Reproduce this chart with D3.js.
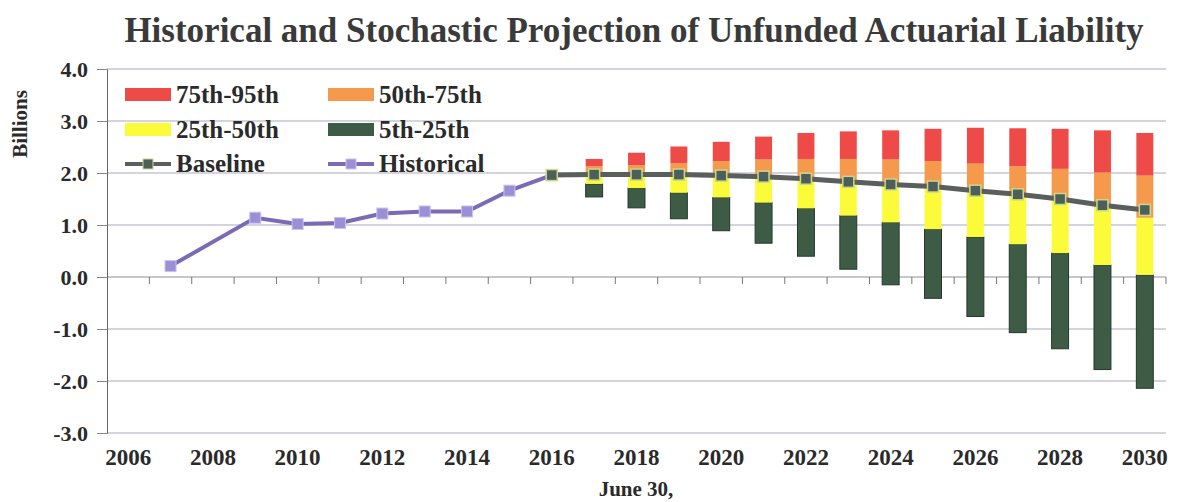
<!DOCTYPE html>
<html>
<head>
<meta charset="utf-8">
<script src="https://cdn.jsdelivr.net/npm/d3@7"></script>
<style>
  html, body { margin: 0; padding: 0; background: #fff; }
  svg { display: block; }
  text { font-family: "Liberation Serif", "Times New Roman", serif; font-weight: bold; fill: #2a2a2a; }
</style>
</head>
<body>
<svg id="chart" width="1179" height="502"></svg>
<script>
// Fiscal years (June 30) on the category axis
const years = d3.range(2006, 2031);
const yearLabels = d3.range(2006, 2031, 2);

// Actual unfunded liability (billions)
const histYears  = [2007, 2009, 2010, 2011, 2012, 2013, 2014, 2015, 2016];
const histValues = [0.21, 1.14, 1.02, 1.04, 1.22, 1.26, 1.26, 1.66, 1.96];

// Deterministic baseline projection (billions)
const baseYears  = d3.range(2016, 2031);
const baseValues = [1.96, 1.97, 1.97, 1.97, 1.95, 1.93, 1.89, 1.83, 1.78, 1.74, 1.66, 1.59, 1.50, 1.38, 1.29];

// Stochastic projection percentiles (billions)
const projYears = d3.range(2017, 2031);
const p5  = [1.54, 1.33, 1.12, 0.89, 0.65, 0.40, 0.15, -0.15, -0.41, -0.76, -1.07, -1.38, -1.78, -2.14];
const p25 = [1.79, 1.71, 1.62, 1.53, 1.43, 1.32, 1.18, 1.05, 0.92, 0.77, 0.63, 0.46, 0.23, 0.04];
const p50 = [1.97, 1.97, 1.97, 1.95, 1.93, 1.89, 1.83, 1.78, 1.74, 1.66, 1.59, 1.50, 1.36, 1.14];
const p75 = [2.13, 2.15, 2.19, 2.23, 2.26, 2.27, 2.27, 2.26, 2.23, 2.18, 2.13, 2.08, 2.01, 1.95];
const p95 = [2.27, 2.39, 2.51, 2.60, 2.70, 2.77, 2.80, 2.82, 2.85, 2.87, 2.86, 2.85, 2.82, 2.77];

const yTicks = [-3, -2, -1, 0, 1, 2, 3, 4];

const bands = [
  { name: "5th-25th",  lo: p5,  hi: p25, color: "#3e5c45", stroke: "#24382a" },
  { name: "25th-50th", lo: p25, hi: p50, color: "#fbfb3a", stroke: "none" },
  { name: "50th-75th", lo: p50, hi: p75, color: "#f59a4c", stroke: "none" },
  { name: "75th-95th", lo: p75, hi: p95, color: "#ee4a48", stroke: "none" }
];

const svg = d3.select("#chart");
const plot = { left: 107, right: 1166, top: 69, bottom: 433 };

const x = d3.scaleBand().domain(years).range([plot.left, plot.right]).padding(0);
const cx = yr => x(yr) + x.bandwidth() / 2;
const y = d3.scaleLinear().domain([-3, 4]).range([plot.bottom, plot.top]);
const barW = x.bandwidth() * 0.4;

// Title
svg.append("text")
  .attr("x", 634).attr("y", 42)
  .attr("text-anchor", "middle")
  .style("font-size", "35px")
  .style("fill", "#3a3a3a")
  .text("Historical and Stochastic Projection of Unfunded Actuarial Liability");

// Horizontal gridlines
svg.append("g").selectAll("line").data(yTicks).join("line")
  .attr("x1", plot.left).attr("x2", plot.right)
  .attr("y1", d => y(d)).attr("y2", d => y(d))
  .attr("stroke", d => d === 0 ? "#8d8d9a" : "#a9a9c2")
  .attr("stroke-width", 1);

// Y axis
const yAxis = svg.append("g")
  .attr("transform", `translate(${plot.left},0)`)
  .call(d3.axisLeft(y).tickValues(yTicks).tickFormat(d => d.toFixed(1)).tickSize(10).tickPadding(9));
yAxis.select(".domain").attr("stroke", "#666");
yAxis.selectAll(".tick line").attr("stroke", "#888");
yAxis.selectAll("text").style("font-size", "22px").style("font-family", "Liberation Serif, serif").style("font-weight", "bold").attr("fill", "#2a2a2a");

// Category tick marks on the zero line
svg.append("g").selectAll("line").data(years.slice(1).concat([2031])).join("line")
  .attr("x1", d => d === 2031 ? plot.right : x(d))
  .attr("x2", d => d === 2031 ? plot.right : x(d))
  .attr("y1", y(0)).attr("y2", y(0) + 7)
  .attr("stroke", "#777");

// X labels along the bottom
const xAxis = svg.append("g")
  .attr("transform", `translate(0,${plot.bottom})`)
  .call(d3.axisBottom(x).tickValues(yearLabels).tickSize(0).tickPadding(16));
xAxis.select(".domain").remove();
xAxis.selectAll("text").style("font-size", "23px").style("font-family", "Liberation Serif, serif").style("font-weight", "bold").attr("fill", "#2a2a2a");

// Axis titles
svg.append("text")
  .attr("transform", "translate(27,124) rotate(-90)")
  .attr("text-anchor", "middle")
  .style("font-size", "21px")
  .text("Billions");
svg.append("text")
  .attr("x", 636).attr("y", 496)
  .attr("text-anchor", "middle")
  .style("font-size", "21px")
  .text("June 30,");

// Stacked percentile bars
const barG = svg.append("g");
bands.forEach(b => {
  barG.append("g").selectAll("rect").data(projYears).join("rect")
    .attr("x", (d, i) => cx(d) - barW / 2)
    .attr("width", barW)
    .attr("y", (d, i) => y(b.hi[i]))
    .attr("height", (d, i) => y(b.lo[i]) - y(b.hi[i]))
    .attr("fill", b.color)
    .attr("stroke", b.stroke)
    .attr("stroke-width", 1);
});

// Historical line
const line = d3.line().x(d => cx(d[0])).y(d => y(d[1]));
const histPts = d3.zip(histYears, histValues);
svg.append("path").datum(histPts)
  .attr("d", line).attr("fill", "none")
  .attr("stroke", "#7a6bb4").attr("stroke-width", 4);
svg.append("g").selectAll("rect").data(histPts).join("rect")
  .attr("x", d => cx(d[0]) - 5.5).attr("y", d => y(d[1]) - 5.5)
  .attr("width", 11).attr("height", 11)
  .attr("fill", "#9b8fd6").attr("stroke", "#c9c2ee").attr("stroke-width", 1);

// Baseline line
const basePts = d3.zip(baseYears, baseValues);
svg.append("path").datum(basePts)
  .attr("d", line).attr("fill", "none")
  .attr("stroke", "#5a5f5c").attr("stroke-width", 5);
svg.append("g").selectAll("rect").data(basePts).join("rect")
  .attr("x", d => cx(d[0]) - 5.5).attr("y", d => y(d[1]) - 5.5)
  .attr("width", 11).attr("height", 11)
  .attr("fill", "#4d5f58").attr("stroke", "#c6d88e").attr("stroke-width", 1.5);

// Legend
const legend = svg.append("g");
const legendItems = [
  { label: "75th-95th", color: "#ee4a48", col: 0, row: 0 },
  { label: "50th-75th", color: "#f59a4c", col: 1, row: 0 },
  { label: "25th-50th", color: "#fbfb3a", col: 0, row: 1 },
  { label: "5th-25th",  color: "#3e5c45", col: 1, row: 1 }
];
const colX = [125, 328];
const rowY = [95, 130, 164];
legendItems.forEach(it => {
  legend.append("rect")
    .attr("x", colX[it.col]).attr("y", rowY[it.row] - 7)
    .attr("width", 46).attr("height", 13)
    .attr("fill", it.color);
  legend.append("text")
    .attr("x", colX[it.col] + 51).attr("y", rowY[it.row] + 8)
    .style("font-size", "25px")
    .text(it.label);
});
const lineItems = [
  { label: "Baseline",   stroke: "#5a5f5c", fill: "#4d5f58", edge: "#c6d88e", col: 0 },
  { label: "Historical", stroke: "#7a6bb4", fill: "#9b8fd6", edge: "#c9c2ee", col: 1 }
];
lineItems.forEach(it => {
  const x0 = colX[it.col], yy = rowY[2];
  legend.append("line")
    .attr("x1", x0).attr("x2", x0 + 46).attr("y1", yy).attr("y2", yy)
    .attr("stroke", it.stroke).attr("stroke-width", 4);
  legend.append("rect")
    .attr("x", x0 + 18).attr("y", yy - 5).attr("width", 10).attr("height", 10)
    .attr("fill", it.fill).attr("stroke", it.edge).attr("stroke-width", 1);
  legend.append("text")
    .attr("x", x0 + 51).attr("y", yy + 8)
    .style("font-size", "25px")
    .text(it.label);
});
</script>
</body>
</html>
